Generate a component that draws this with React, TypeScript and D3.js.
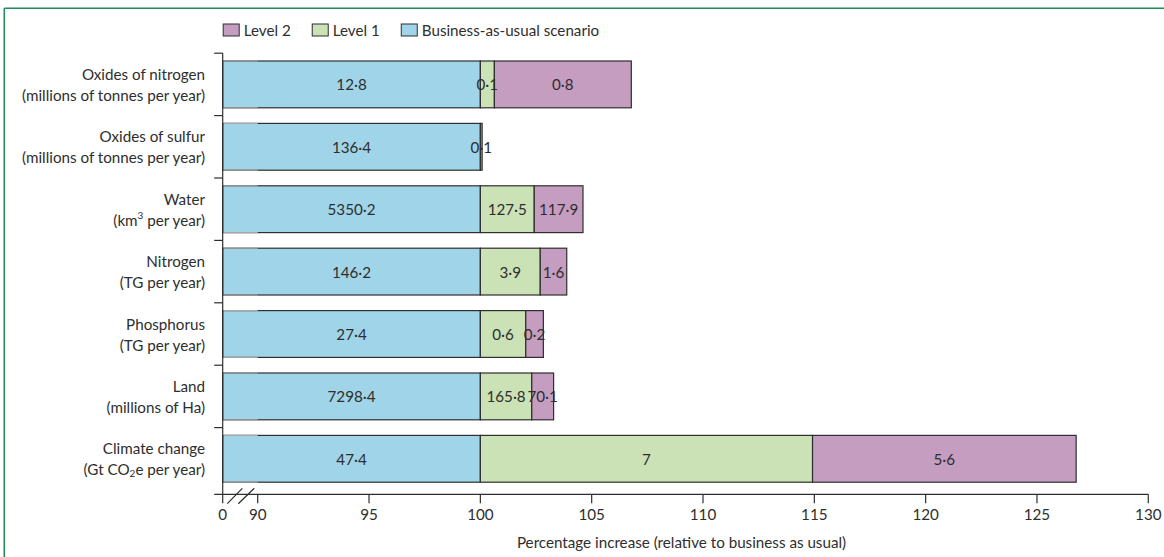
import { useEffect, useRef } from 'react';
import * as d3 from 'd3';

// rows, top to bottom
const categories = [
  'Oxides of nitrogen',
  'Oxides of sulfur',
  'Water',
  'Nitrogen',
  'Phosphorus',
  'Land',
  'Climate change',
];
const units = [
  '(millions of tonnes per year)',
  '(millions of tonnes per year)',
  '(km^3 per year)',
  '(TG per year)',
  '(TG per year)',
  '(millions of Ha)',
  '(Gt CO_2e per year)',
];

// absolute amounts printed in the segments
const bauValues = [12.8, 136.4, 5350.2, 146.2, 27.4, 7298.4, 47.4];
const level1Values = [0.1, 0, 127.5, 3.9, 0.6, 165.8, 7];
const level2Values = [0.8, 0.1, 117.9, 1.6, 0.2, 70.1, 5.6];

// percentage increase over business as usual
const level1Pct = [0.63, 0, 2.42, 2.69, 2.04, 2.31, 14.92];
const level2Pct = [6.15, 0.08, 2.19, 1.19, 0.79, 0.98, 11.84];

const xTicks = [0, 90, 95, 100, 105, 110, 115, 120, 125, 130];

const legendLabels = ['Level 2', 'Level 1', 'Business-as-usual scenario'];
const colors = {
  bau: '#a0d4e8',
  level1: '#cbe2b6',
  level2: '#c59dc0',
};
const legendColors = [colors.level2, colors.level1, colors.bau];

const FONT = 'Lato, "Open Sans", sans-serif';
const FS = '15.2px';
const INK = '#2e2e2e';

const fmt = (v: number) => String(v).replace('.', '·');

// '^3' -> superscript, '_2' -> subscript (shifted with dy, then shifted back)
function richText(sel: d3.Selection<SVGTextElement, unknown, null, undefined>, s: string) {
  let back = 0;
  s.split(/(\^\d|_\d)/).forEach((part) => {
    if (!part) return;
    if (part[0] === '^' || part[0] === '_') {
      const shift = part[0] === '^' ? -5 : 3.5;
      sel.append('tspan').attr('font-size', '10px').attr('dy', shift).text(part.slice(1));
      back = -shift;
    } else {
      const t = sel.append('tspan').text(part);
      if (back) t.attr('dy', back);
      back = 0;
    }
  });
}

export default function App() {
  const svgRef = useRef<SVGSVGElement>(null);
  const width = 1164;
  const height = 557;

  useEffect(() => {
    if (!svgRef.current) return;
    const svg = d3.select(svgRef.current);
    svg.selectAll('*').remove();

    // broken axis: 0 then jump to 90
    const x = d3.scaleLinear().domain([0, 90, 130]).range([222.7, 257.7, 1148.3]);
    const y = d3.scaleBand<string>()
      .domain(categories)
      .range([53.2, 490])
      .paddingInner(0.25)
      .paddingOuter(0.125);
    const axisY = 494.3;
    const step = y.step();
    const bandTop = (c: string) => (y(c) as number) - step * 0.125;

    // frame (top + left)
    svg.append('line')
      .attr('x1', 4.3).attr('x2', width).attr('y1', 8.3).attr('y2', 8.3)
      .attr('stroke', '#1f8a5c').attr('stroke-width', 1.6);
    svg.append('line')
      .attr('x1', 4.3).attr('x2', 4.3).attr('y1', 8.3).attr('y2', height)
      .attr('stroke', '#1f8a5c').attr('stroke-width', 1.6);

    // legend
    let lx = x(0);
    legendLabels.forEach((label, i) => {
      svg.append('rect')
        .attr('x', lx + 0.5).attr('y', 24)
        .attr('width', 16).attr('height', 12)
        .attr('fill', legendColors[i])
        .attr('stroke', INK).attr('stroke-width', 1);
      const t = svg.append('text')
        .attr('x', lx + 21).attr('y', 30)
        .attr('dominant-baseline', 'central')
        .attr('fill', INK)
        .style('font-family', FONT)
        .style('font-size', FS)
        .text(label);
      const w = (t.node() as SVGTextElement).getComputedTextLength();
      lx = lx + 21 + w + 21;
    });

    // bars
    const rows = svg.append('g');
    categories.forEach((c, i) => {
      const top = y(c) as number;
      const h = y.bandwidth();
      const cy = top + h / 2;
      const l1End = 100 + level1Pct[i];
      const l2End = l1End + level2Pct[i];
      const segs = [
        { x0: 0, x1: 100, fill: colors.bau, value: bauValues[i] },
        { x0: 100, x1: l1End, fill: colors.level1, value: level1Values[i] },
        { x0: l1End, x1: l2End, fill: colors.level2, value: level2Values[i] },
      ];
      segs.forEach((s) => {
        if (s.x1 <= s.x0) return;
        rows.append('rect')
          .attr('x', x(s.x0)).attr('y', top)
          .attr('width', x(s.x1) - x(s.x0)).attr('height', h)
          .attr('fill', s.fill)
          .attr('stroke', '#2e2e2e').attr('stroke-width', 1.2);
      });
      // lighter edge over the broken part of the scale
      [top, top + h].forEach((yy) => {
        rows.append('line')
          .attr('x1', x(0) + 0.6).attr('x2', x(90)).attr('y1', yy).attr('y2', yy)
          .attr('stroke', '#a8a8a8').attr('stroke-width', 1.2);
      });
      segs.forEach((s) => {
        if (!s.value) return;
        rows.append('text')
          .attr('x', (x(s.x0) + x(s.x1)) / 2)
          .attr('y', cy)
          .attr('text-anchor', 'middle')
          .attr('dominant-baseline', 'central')
          .attr('fill', INK)
          .style('font-family', FONT)
          .style('font-size', FS)
          .text(fmt(s.value));
      });

      // row labels
      const name = svg.append('text')
        .attr('x', 205).attr('y', cy - 10.5)
        .attr('text-anchor', 'end')
        .attr('dominant-baseline', 'central')
        .attr('fill', INK)
        .style('font-family', FONT)
        .style('font-size', FS);
      richText(name, c);
      const unit = svg.append('text')
        .attr('x', 205).attr('y', cy + 10.5)
        .attr('text-anchor', 'end')
        .attr('dominant-baseline', 'central')
        .attr('fill', INK)
        .style('font-family', FONT)
        .style('font-size', FS);
      richText(unit, units[i]);
    });

    // y axis with ticks at band boundaries
    const ax = svg.append('g').attr('stroke', '#2e2e2e').attr('stroke-width', 1.2);
    ax.append('line')
      .attr('x1', x(0)).attr('x2', x(0))
      .attr('y1', bandTop(categories[0])).attr('y2', axisY);
    categories.forEach((c) => {
      ax.append('line')
        .attr('x1', x(0) - 8.5).attr('x2', x(0))
        .attr('y1', bandTop(c)).attr('y2', bandTop(c));
    });

    // x axis
    ax.append('line')
      .attr('x1', x(0) - 8.5).attr('x2', x(130))
      .attr('y1', axisY).attr('y2', axisY);
    xTicks.forEach((v) => {
      ax.append('line')
        .attr('x1', x(v)).attr('x2', x(v))
        .attr('y1', axisY).attr('y2', axisY + 9);
      svg.append('text')
        .attr('x', x(v)).attr('y', axisY + 19.5)
        .attr('text-anchor', 'middle')
        .attr('dominant-baseline', 'central')
        .attr('fill', INK)
        .style('font-family', FONT)
        .style('font-size', FS)
        .text(String(v));
    });
    // break marks
    const bx = x(0);
    [[4.6, 19.6], [15.6, 31.6]].forEach(([a, b]) => {
      ax.append('line')
        .attr('x1', bx + a).attr('y1', axisY + 9.4)
        .attr('x2', bx + b).attr('y2', axisY - 6);
    });

    svg.append('text')
      .attr('x', (x(0) + x(130)) / 2 - 4)
      .attr('y', 542)
      .attr('text-anchor', 'middle')
      .attr('dominant-baseline', 'central')
      .attr('fill', INK)
      .style('font-family', FONT)
      .style('font-size', FS)
      .text('Percentage increase (relative to business as usual)');
  }, []);

  return (
    <svg
      ref={svgRef}
      width={width}
      height={height}
      viewBox={`0 0 ${width} ${height}`}
      style={{ position: 'absolute', left: 0, top: 0, background: '#fff' }}
    />
  );
}
